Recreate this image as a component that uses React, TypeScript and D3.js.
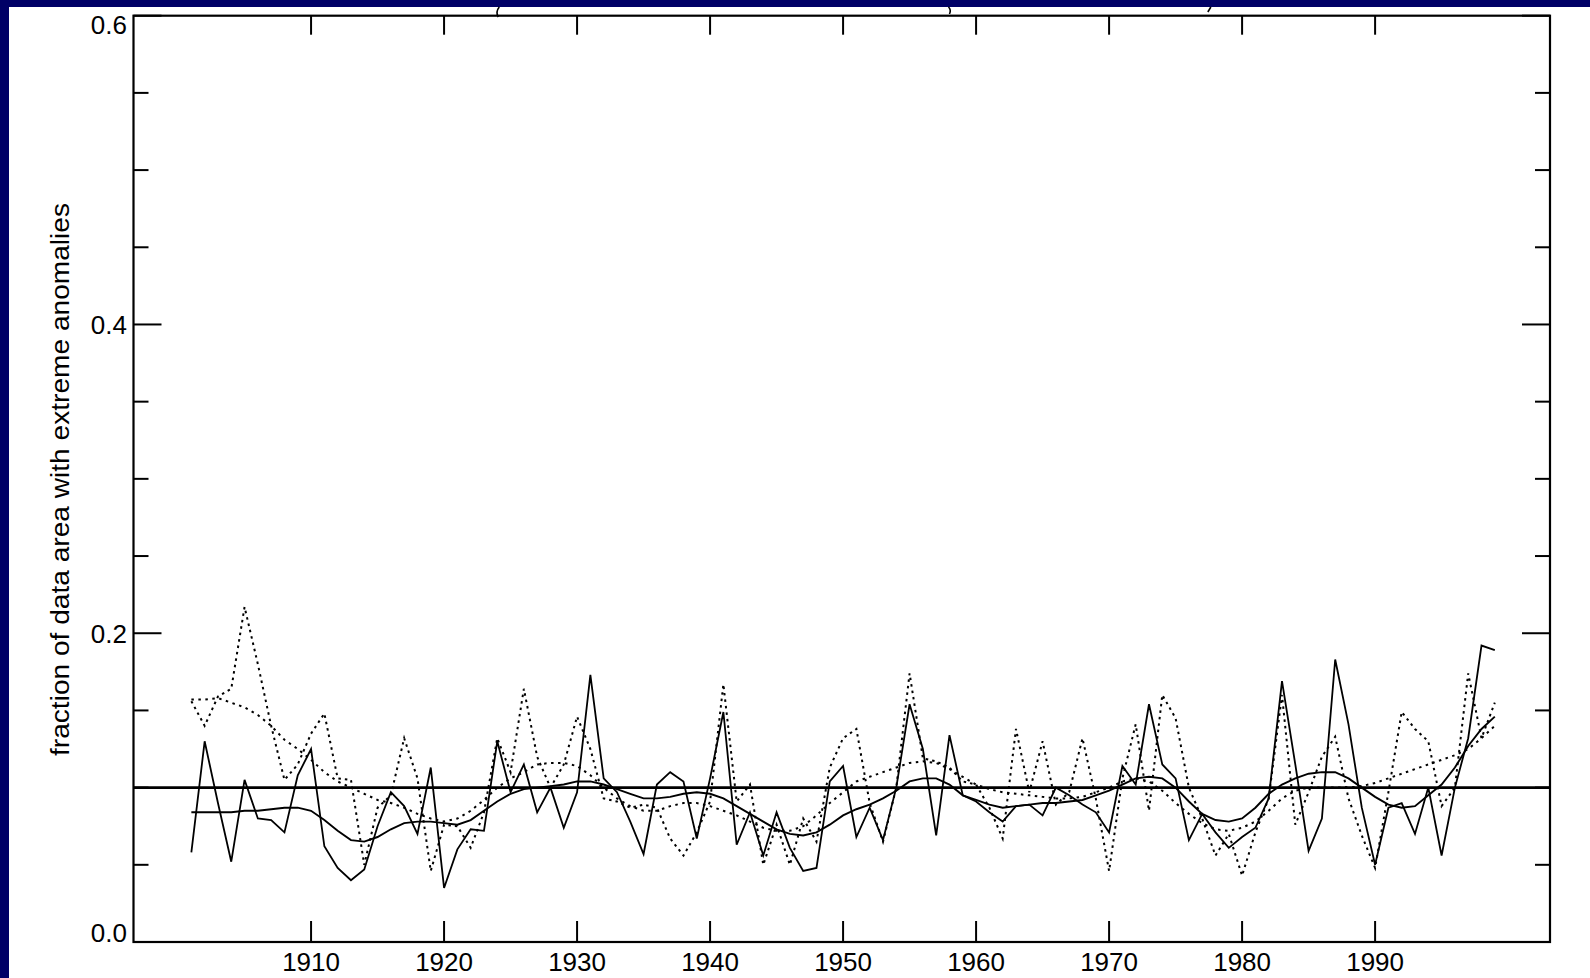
import React from "react";
import * as d3 from "d3";

// ---- data (1901-1999) ----
const startYear = 1901;

const solidAnnual = [
  0.058, 0.130, 0.090, 0.052, 0.105, 0.080, 0.079, 0.071, 0.108, 0.125,
  0.062, 0.048, 0.040, 0.047, 0.075, 0.097, 0.088, 0.070, 0.113, 0.035,
  0.060, 0.073, 0.072, 0.130, 0.097, 0.115, 0.084, 0.100, 0.074, 0.097,
  0.173, 0.106, 0.097, 0.078, 0.057, 0.102, 0.110, 0.104, 0.067, 0.106,
  0.149, 0.063, 0.084, 0.056, 0.084, 0.061, 0.046, 0.048, 0.104, 0.114,
  0.068, 0.087, 0.066, 0.100, 0.154, 0.125, 0.069, 0.134, 0.095, 0.091,
  0.084, 0.078, 0.088, 0.089, 0.082, 0.100, 0.095, 0.089, 0.084, 0.071,
  0.114, 0.102, 0.154, 0.115, 0.106, 0.066, 0.083, 0.071, 0.061, 0.068,
  0.074, 0.093, 0.169, 0.115, 0.059, 0.080, 0.183, 0.141, 0.087, 0.050,
  0.087, 0.090, 0.070, 0.100, 0.056, 0.100, 0.132, 0.192, 0.189,
];

const dottedAnnual = [
  0.156, 0.140, 0.159, 0.164, 0.217, 0.180, 0.140, 0.105, 0.115, 0.135,
  0.148, 0.106, 0.105, 0.050, 0.087, 0.095, 0.132, 0.106, 0.046, 0.076,
  0.075, 0.061, 0.084, 0.132, 0.110, 0.164, 0.120, 0.100, 0.115, 0.146,
  0.125, 0.093, 0.091, 0.087, 0.089, 0.087, 0.067, 0.056, 0.071, 0.091,
  0.167, 0.091, 0.102, 0.050, 0.076, 0.050, 0.080, 0.065, 0.113, 0.132,
  0.138, 0.090, 0.065, 0.100, 0.174, 0.119, 0.117, 0.113, 0.104, 0.102,
  0.087, 0.067, 0.138, 0.097, 0.130, 0.089, 0.097, 0.132, 0.093, 0.046,
  0.106, 0.141, 0.085, 0.160, 0.145, 0.100, 0.080, 0.056, 0.070, 0.043,
  0.071, 0.093, 0.160, 0.076, 0.097, 0.120, 0.133, 0.093, 0.069, 0.048,
  0.097, 0.149, 0.138, 0.130, 0.088, 0.100, 0.174, 0.132, 0.155,
];

const solidSmooth = [
  0.084, 0.084, 0.084, 0.084, 0.085, 0.085, 0.086, 0.087, 0.087, 0.085,
  0.079, 0.072, 0.066, 0.065, 0.068, 0.073, 0.077, 0.078, 0.078, 0.077,
  0.076, 0.079, 0.085, 0.091, 0.096, 0.099, 0.100, 0.101, 0.102, 0.104,
  0.104, 0.102, 0.099, 0.096, 0.093, 0.093, 0.094, 0.096, 0.097, 0.096,
  0.093, 0.088, 0.083, 0.078, 0.073, 0.070, 0.069, 0.071, 0.076, 0.082,
  0.086, 0.089, 0.093, 0.098, 0.104, 0.106, 0.106, 0.102, 0.095, 0.092,
  0.089, 0.087, 0.088, 0.089, 0.090, 0.090, 0.091, 0.092, 0.095, 0.098,
  0.102, 0.106, 0.107, 0.106, 0.100, 0.091, 0.083, 0.079, 0.078, 0.080,
  0.087, 0.096, 0.102, 0.106, 0.109, 0.110, 0.110, 0.106, 0.100, 0.094,
  0.089, 0.087, 0.088, 0.095, 0.102, 0.113, 0.127, 0.138, 0.146,
];

const dottedSmooth = [
  0.157, 0.157, 0.158, 0.155, 0.152, 0.147, 0.140, 0.131, 0.125, 0.118,
  0.110, 0.104, 0.100, 0.096, 0.092, 0.090, 0.087, 0.083, 0.080, 0.078,
  0.080, 0.085, 0.092, 0.100, 0.106, 0.110, 0.115, 0.116, 0.116, 0.114,
  0.108, 0.100, 0.093, 0.088, 0.085, 0.085, 0.088, 0.090, 0.090, 0.088,
  0.085, 0.082, 0.078, 0.074, 0.072, 0.072, 0.075, 0.082, 0.090, 0.097,
  0.104, 0.107, 0.110, 0.113, 0.116, 0.117, 0.116, 0.112, 0.107, 0.102,
  0.099, 0.097, 0.096, 0.095, 0.094, 0.093, 0.093, 0.094, 0.097, 0.100,
  0.104, 0.106, 0.104, 0.098, 0.090, 0.083, 0.077, 0.073, 0.072, 0.074,
  0.078, 0.085, 0.093, 0.098, 0.100, 0.100, 0.100, 0.100, 0.101, 0.103,
  0.106, 0.109, 0.112, 0.115, 0.118, 0.121, 0.125, 0.132, 0.140,
];

const referenceLevel = 0.1;
const yearTicks = [1910, 1920, 1930, 1940, 1950, 1960, 1970, 1980, 1990];
const yMajorTicks = [0.0, 0.2, 0.4, 0.6];
const yMinorTicks = [0.05, 0.1, 0.15, 0.25, 0.3, 0.35, 0.45, 0.5, 0.55];
const yTickLabels = ["0.0", "0.2", "0.4", "0.6"];
const yAxisTitle = "fraction of data area with extreme anomalies";
// years under which the cut-off title leaves small marks above the plot
const titleRemnantYears = [1924, 1958, 1977.5];

const W = 1590;
const H = 978;
const L = 133.5, R = 1550, T = 15.7, B = 942;
const FONT = "'Liberation Sans', Arial, Helvetica, sans-serif";

export default function App() {
  const x = d3.scaleLinear().domain([1896.65, 2003.15]).range([L, R]);
  const y = d3.scaleLinear().domain([0, 0.6]).range([B, T]);
  const line = d3
    .line<number>()
    .x((_, i) => x(startYear + i))
    .y((v) => y(v));

  const series = [
    { data: dottedSmooth, dash: "2.5,4.5", w: 2 },
    { data: solidSmooth, dash: undefined, w: 1.9 },
    { data: dottedAnnual, dash: "2.5,4", w: 2 },
    { data: solidAnnual, dash: undefined, w: 1.8 },
  ];

  return (
    <svg
      width={W}
      height={H}
      style={{ position: "absolute", left: 0, top: 0, display: "block" }}
    >
      <rect x={0} y={0} width={W} height={H} fill="#000066" />
      <rect x={9} y={7} width={W - 9} height={H - 7} fill="#ffffff" />

      {/* cut-off title remnants */}
      {titleRemnantYears.map((t, i) => (
        <path
          key={"r" + t}
          d={
            i === 0
              ? `M${x(t) + 2},7 Q${x(t) - 2},12 ${x(t) + 1},17`
              : i === 1
              ? `M${x(t) - 1},7 Q${x(t) + 2},10 ${x(t)},14`
              : `M${x(t) + 2},7 L${x(t) - 1},12`
          }
          fill="none"
          stroke="#000"
          strokeWidth={1.6}
        />
      ))}

      {/* data lines */}
      {series.map((s, i) => (
        <path
          key={i}
          d={line(s.data) || ""}
          fill="none"
          stroke="#000"
          strokeWidth={s.w}
          strokeDasharray={s.dash}
          strokeLinejoin="miter"
        />
      ))}

      {/* reference line */}
      <line
        x1={L}
        x2={R}
        y1={y(referenceLevel)}
        y2={y(referenceLevel)}
        stroke="#000"
        strokeWidth={2.6}
      />

      {/* box */}
      <rect x={L} y={T} width={R - L} height={B - T} fill="none" stroke="#000" strokeWidth={2.2} />

      {/* x ticks */}
      {yearTicks.map((t) => (
        <g key={t}>
          <line x1={x(t)} x2={x(t)} y1={B} y2={B - 21} stroke="#000" strokeWidth={2} />
          <line x1={x(t)} x2={x(t)} y1={T} y2={T + 19} stroke="#000" strokeWidth={2} />
          <text
            x={x(t)}
            y={971}
            textAnchor="middle"
            fontFamily={FONT}
            fontSize={26}
            fill="#000"
          >
            {t}
          </text>
        </g>
      ))}

      {/* y ticks */}
      {yMajorTicks.map((t) => (
        <g key={"M" + t}>
          <line x1={L} x2={L + 28} y1={y(t)} y2={y(t)} stroke="#000" strokeWidth={2} />
          <line x1={R} x2={R - 28} y1={y(t)} y2={y(t)} stroke="#000" strokeWidth={2} />
        </g>
      ))}
      {yMinorTicks.map((t) => (
        <g key={"m" + t}>
          <line x1={L} x2={L + 15} y1={y(t)} y2={y(t)} stroke="#000" strokeWidth={2} />
          <line x1={R} x2={R - 15} y1={y(t)} y2={y(t)} stroke="#000" strokeWidth={2} />
        </g>
      ))}
      {yMajorTicks.map((t, i) => (
        <text
          key={"l" + t}
          x={127}
          y={Math.min(Math.max(y(t) + 9.5, 34), 942)}
          textAnchor="end"
          fontFamily={FONT}
          fontSize={26}
          fill="#000"
        >
          {yTickLabels[i]}
        </text>
      ))}

      {/* y axis title */}
      <text
        transform={`translate(69,479.5) rotate(-90)`}
        textAnchor="middle"
        fontFamily={FONT}
        fontSize={26}
        textLength={553}
        lengthAdjust="spacingAndGlyphs"
        fill="#000"
      >
        {yAxisTitle}
      </text>
    </svg>
  );
}
